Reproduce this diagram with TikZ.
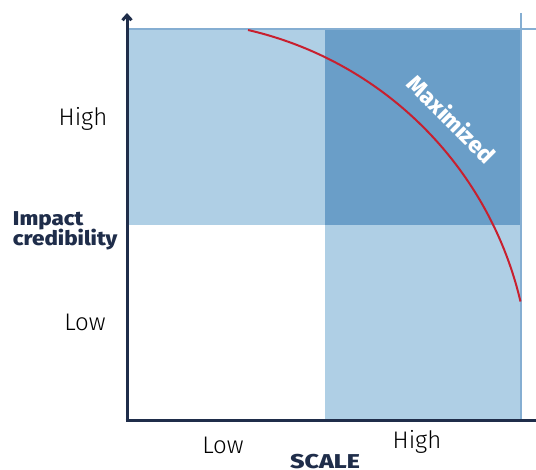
\documentclass[tikz,border=0pt]{standalone}
\usepackage{fontspec}
\setmainfont{Fira Sans Light}[BoldFont={Fira Sans ExtraBold}]
\usetikzlibrary{arrows.meta}
\definecolor{lightb}{HTML}{AFCFE5}
\definecolor{darkb}{HTML}{6A9EC8}
\definecolor{thinb}{HTML}{85AED2}
\definecolor{navy}{HTML}{1F2D4A}
\definecolor{redc}{HTML}{C8202F}
\begin{document}
\begin{tikzpicture}[x=1pt,y=-1pt,
  axis/.style={navy,line width=3pt},
  thin/.style={thinb,line width=1.8pt},
  tick/.style={font=\fontsize{24}{26}\selectfont,text=black},
  axtitle/.style={font=\bfseries\fontsize{20}{21}\selectfont,text=navy,align=left}]
\useasboundingbox (0,0) rectangle (536,470);
\fill[lightb] (128,29) rectangle (325,225);
\fill[darkb] (325,29) rectangle (522,225);
\fill[lightb] (325,225) rectangle (522,420);
\draw[thin] (128,29) -- (536,29);
\draw[thin] (521,13) -- (521,420);
\draw[redc,line width=2pt] (248,30) arc[start angle=-77,end angle=-13.2,radius=364];
\coordinate (o) at (127,421);
\coordinate (ytip) at (127,13);
\coordinate (xend) at (536,421);
\draw[axis,-{Straight Barb[length=5pt,width=9pt]}] (o) -- (ytip);
\draw[axis] (125.5,421) -- (xend);
\node[tick] (yh) at (83,119) {High};
\node[tick] (yl) at (85,322) {Low};
\node[tick] (xl) at (223,445) {Low};
\node[tick] (xh) at (417,442) {High};
\node[axtitle,anchor=west,xscale=1.12] (ylab) at (9,231) {Impact\\[-1pt]credibility};
\node[axtitle,xscale=1.25] (xlab) at (325,462) {SCALE};
\node[font=\bfseries\fontsize{23}{24}\selectfont,text=white,rotate=-45] (mx) at (452,119) {Maximized};
\end{tikzpicture}
\end{document}
